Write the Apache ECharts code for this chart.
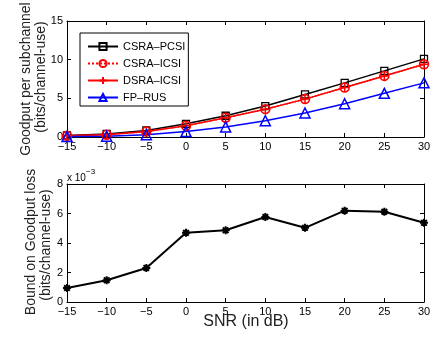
<!DOCTYPE html>
<html><head><meta charset="utf-8">
<script src="https://cdn.jsdelivr.net/npm/echarts@6/dist/echarts.min.js"></script>
<style>html,body{margin:0;padding:0;background:#fff}#c{width:445px;height:337px}</style>
</head><body><div id="c"></div>
<script>
var snr = [-15, -10, -5, 0, 5, 10, 15, 20, 25, 30];
var csraPcsi = [0.2, 0.4, 0.85, 1.7, 2.75, 4.0, 5.5, 7.0, 8.55, 10.1];
var csraIcsi = [0.15, 0.3, 0.7, 1.45, 2.5, 3.6, 4.9, 6.4, 7.9, 9.4];
var dsraIcsi = [0.15, 0.3, 0.7, 1.45, 2.5, 3.6, 4.9, 6.4, 7.9, 9.4];
var fpRus = [0.05, 0.1, 0.3, 0.7, 1.3, 2.1, 3.1, 4.3, 5.65, 7.0];
// bound on goodput loss, in units of 1e-3
var lossE3 = [0.95, 1.48, 2.31, 4.69, 4.86, 5.76, 5.03, 6.19, 6.12, 5.37];
var topYTicks = [0, 5, 10, 15];
var botYTicks = [0, 2, 4, 6, 8];

function pairs(ys){ return snr.map(function(x,i){ return [x, ys[i]]; }); }

var FONT = 'Liberation Sans, Arial, sans-serif';
var plus = 'path://M0,-1L0,1M-1,0L1,0';
var star = 'path://M0,-1L0,1M-1,0L1,0M-0.7,-0.7L0.7,0.7M-0.7,0.7L0.7,-0.7';
function fmt(v){ return String(v).replace('-', '\u2212'); }

function xAx(grid, pos, labels){
  return {type:'value', gridIndex:grid, position:pos, min:-15, max:30, interval:5,
    axisLine:{show:true, onZero:false, lineStyle:{color:'#000', width:1}},
    axisTick:{show:true, inside:true, length:4, lineStyle:{color:'#000'}},
    axisLabel:{show:labels, color:'#000', fontSize:11, fontFamily:FONT, margin:4, formatter:fmt},
    splitLine:{show:false}};
}
function yAx(grid, pos, max, interval, labels){
  return {type:'value', gridIndex:grid, position:pos, min:0, max:max, interval:interval,
    axisLine:{show:true, onZero:false, lineStyle:{color:'#000', width:1}},
    axisTick:{show:true, inside:true, length:4, lineStyle:{color:'#000'}},
    axisLabel:{show:labels, color:'#000', fontSize:11, fontFamily:FONT, margin:4},
    splitLine:{show:false}};
}

var chart = echarts.init(document.getElementById('c'), null, {renderer:'canvas'});
chart.setOption({
  animation:false,
  backgroundColor:'#fff',
  grid:[
    {left:67, right:21, top:21, height:116},
    {left:67, right:21, top:184, height:118}
  ],
  xAxis:[xAx(0,'bottom',true), xAx(0,'top',false), xAx(1,'bottom',true), xAx(1,'top',false)],
  yAxis:[yAx(0,'left',15,5,true), yAx(0,'right',15,5,false), yAx(1,'left',8,2,true), yAx(1,'right',8,2,false)],
  legend:{
    orient:'vertical', left:80, top:33,
    padding:[8,3,3,7], itemGap:6, itemWidth:30, itemHeight:9,
    backgroundColor:'#fff', borderColor:'#000', borderWidth:1,
    textStyle:{color:'#000', fontSize:11, fontFamily:FONT},
    data:['CSRA\u2013PCSI','CSRA\u2013ICSI','DSRA\u2013ICSI','FP\u2013RUS']
  },
  series:[
    {name:'CSRA\u2013PCSI', type:'line', xAxisIndex:0, yAxisIndex:0, data:pairs(csraPcsi),
      symbol:'rect', symbolSize:7, lineStyle:{color:'#000', width:1.5},
      itemStyle:{color:'rgba(0,0,0,0)', borderColor:'#000', borderWidth:1.3}},
    {name:'CSRA\u2013ICSI', type:'line', xAxisIndex:0, yAxisIndex:0, data:pairs(csraIcsi),
      symbol:'circle', symbolSize:9, lineStyle:{color:'#f00', width:1.5, type:'dotted'},
      itemStyle:{color:'rgba(0,0,0,0)', borderColor:'#f00', borderWidth:1.5}},
    {name:'DSRA\u2013ICSI', type:'line', xAxisIndex:0, yAxisIndex:0, data:pairs(dsraIcsi),
      symbol:plus, symbolSize:9, lineStyle:{color:'#f00', width:1.5},
      itemStyle:{color:'rgba(0,0,0,0)', borderColor:'#f00', borderWidth:1.5}},
    {name:'FP\u2013RUS', type:'line', xAxisIndex:0, yAxisIndex:0, data:pairs(fpRus),
      symbol:'triangle', symbolSize:10, lineStyle:{color:'#00f', width:1.5},
      itemStyle:{color:'rgba(0,0,0,0)', borderColor:'#00f', borderWidth:1.5}},
    {name:'loss', type:'line', xAxisIndex:2, yAxisIndex:2, data:pairs(lossE3),
      symbol:star, symbolSize:8, lineStyle:{color:'#000', width:2},
      itemStyle:{color:'rgba(0,0,0,0)', borderColor:'#000', borderWidth:2}}
  ],
  graphic:[
    {type:'text', x:26, y:79, rotation:Math.PI/2, style:{text:'Goodput per subchannel', font:'14px '+FONT, fill:'#222', textAlign:'center', textVerticalAlign:'middle'}},
    {type:'text', x:41, y:77, rotation:Math.PI/2, style:{text:'(bits/channel-use)', font:'14px '+FONT, fill:'#222', textAlign:'center', textVerticalAlign:'middle'}},
    {type:'text', x:31, y:242, rotation:Math.PI/2, style:{text:'Bound on Goodput loss', font:'14px '+FONT, fill:'#222', textAlign:'center', textVerticalAlign:'middle'}},
    {type:'text', x:46, y:245, rotation:Math.PI/2, style:{text:'(bits/channel-use)', font:'14px '+FONT, fill:'#222', textAlign:'center', textVerticalAlign:'middle'}},
    {type:'text', x:246, y:322, style:{text:'SNR (in dB)', font:'16px '+FONT, fill:'#222', textAlign:'center', textVerticalAlign:'middle'}},
    {type:'text', x:67, y:178, style:{text:'x 10', font:'10px '+FONT, fill:'#000', textAlign:'left', textVerticalAlign:'middle'}},
    {type:'text', x:86, y:172, style:{text:'\u22123', font:'8px '+FONT, fill:'#000', textAlign:'left', textVerticalAlign:'middle'}}
  ]
});
</script></body></html>
